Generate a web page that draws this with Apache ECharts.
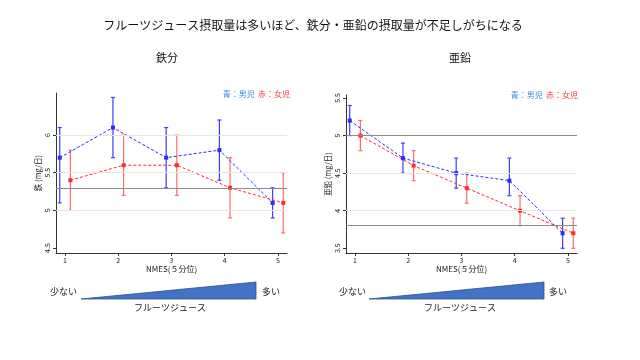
<!DOCTYPE html>
<html><head><meta charset="utf-8">
<script src="https://cdn.jsdelivr.net/npm/echarts@6/dist/echarts.min.js"></script>
<style>html,body{margin:0;padding:0;background:#fff}#c{width:640px;height:360px}</style>
</head><body><div id="c"></div>
<script>
const quintiles = [1, 2, 3, 4, 5];
const xTicks = [1, 2, 3, 4, 5];
const yTicksIron = [4.5, 5, 5.5, 6];
const yTicksZinc = [3.5, 4, 4.5, 5, 5.5];
const ironBoyMean  = [5.7, 6.1, 5.7, 5.8, 5.1];
const ironBoyLow   = [5.1, 5.7, 5.3, 5.4, 4.9];
const ironBoyHigh  = [6.1, 6.5, 6.1, 6.2, 5.3];
const ironGirlMean = [5.4, 5.6, 5.6, 5.3, 5.1];
const ironGirlLow  = [5.0, 5.2, 5.2, 4.9, 4.7];
const ironGirlHigh = [5.8, 6.0, 6.0, 5.7, 5.5];
const zincBoyMean  = [5.2, 4.7, 4.5, 4.4, 3.7];
const zincBoyLow   = [5.0, 4.5, 4.3, 4.2, 3.5];
const zincBoyHigh  = [5.4, 4.9, 4.7, 4.7, 3.9];
const zincGirlMean = [5.0, 4.6, 4.3, 4.0, 3.7];
const zincGirlLow  = [4.8, 4.4, 4.1, 3.8, 3.5];
const zincGirlHigh = [5.2, 4.8, 4.5, 4.2, 3.9];
const ironRefLines = [5.3];
const zincRefLines = [5.0, 3.8];
const ironGridLines = [5, 5.5, 6];
const zincGridLines = [4, 4.5];

const FONT = '"Noto Sans CJK JP", "Noto Sans", sans-serif';
const BLUE = '#2a2aff', BLUE_BAR = '#3c3cff';
const RED = '#ff2a2a', RED_BAR = '#ff6a6a';
const DODGE = 0.1;

function errSeries(idx, low, high, color, off) {
  return {
    type: 'custom', xAxisIndex: idx, yAxisIndex: idx, z: 3,
    data: quintiles.map((q, i) => [q + off, low[i], high[i]]),
    renderItem: function (params, api) {
      const x = api.value(0);
      const a = api.coord([x, api.value(1)]);
      const b = api.coord([x, api.value(2)]);
      const w = 2;
      const st = { stroke: color, lineWidth: 1.2 };
      return { type: 'group', children: [
        { type: 'line', shape: { x1: a[0], y1: a[1], x2: b[0], y2: b[1] }, style: st },
        { type: 'line', shape: { x1: a[0] - w, y1: a[1], x2: a[0] + w, y2: a[1] }, style: st },
        { type: 'line', shape: { x1: b[0] - w, y1: b[1], x2: b[0] + w, y2: b[1] }, style: st }
      ]};
    }
  };
}
function meanSeries(idx, mean, color, off) {
  return {
    type: 'line', xAxisIndex: idx, yAxisIndex: idx, z: 4,
    data: quintiles.map((q, i) => [q + off, mean[i]]),
    symbol: 'rect', symbolSize: 4,
    itemStyle: { color: color },
    lineStyle: { color: color, width: 1, type: [3, 2] },
    emphasis: { disabled: true },
    animation: false
  };
}
function refSeries(idx, ref, grid) {
  return {
    type: 'line', xAxisIndex: idx, yAxisIndex: idx, z: 1, data: [],
    markLine: {
      silent: true, symbol: 'none', label: { show: false }, animation: false,
      data: grid.map(v => ({ yAxis: v, lineStyle: { color: '#e6e6e6', width: 1, type: 'solid' } }))
        .concat(ref.map(v => ({ yAxis: v, lineStyle: { color: '#8c8c8c', width: 1, type: 'solid' } })))
    }
  };
}
function xAxis(idx) {
  return {
    type: 'value', gridIndex: idx, min: 0.83, max: 5.17,
    name: 'NMES(５分位)', nameLocation: 'middle', nameGap: 12,
    nameTextStyle: { fontSize: 8, color: '#222', fontFamily: FONT },
    axisLine: { lineStyle: { color: '#333', width: 1 } },
    axisTick: { show: true, length: 3, customValues: xTicks, lineStyle: { color: '#333' } },
    axisLabel: { fontSize: 7, color: '#222', margin: 4, customValues: xTicks, fontFamily: FONT },
    splitLine: { show: false }
  };
}
function yAxis(idx, min, max, ticks, name) {
  return {
    type: 'value', gridIndex: idx, min: min, max: max,
    name: name, nameLocation: 'middle', nameGap: 14, nameRotate: 90,
    nameTextStyle: { fontSize: 7.5, color: '#222', fontFamily: FONT },
    axisLine: { show: true, lineStyle: { color: '#333', width: 1 } },
    axisTick: { show: true, length: 3, customValues: ticks, lineStyle: { color: '#333' } },
    axisLabel: { fontSize: 7, color: '#222', rotate: 90, margin: 5, customValues: ticks, fontFamily: FONT },
    splitLine: { show: false }
  };
}

const chart = echarts.init(document.getElementById('c'), null, { renderer: 'canvas' });
chart.setOption({
  backgroundColor: '#fff',
  animation: false,
  grid: [
    { left: 56, width: 231, top: 93, height: 160 },
    { left: 346, width: 231, top: 95, height: 158 }
  ],
  xAxis: [xAxis(0), xAxis(1)],
  yAxis: [
    yAxis(0, 4.434, 6.559, yTicksIron, '鉄 (mg/日)'),
    yAxis(1, 3.437, 5.54, yTicksZinc, '亜鉛 (mg/日)')
  ],
  series: [
    refSeries(0, ironRefLines, ironGridLines),
    errSeries(0, ironBoyLow, ironBoyHigh, BLUE_BAR, -DODGE),
    errSeries(0, ironGirlLow, ironGirlHigh, RED_BAR, DODGE),
    meanSeries(0, ironBoyMean, BLUE, -DODGE),
    meanSeries(0, ironGirlMean, RED, DODGE),
    refSeries(1, zincRefLines, zincGridLines),
    errSeries(1, zincBoyLow, zincBoyHigh, BLUE_BAR, -DODGE),
    errSeries(1, zincGirlLow, zincGirlHigh, RED_BAR, DODGE),
    meanSeries(1, zincBoyMean, BLUE, -DODGE),
    meanSeries(1, zincGirlMean, RED, DODGE)
  ],
  graphic: [
    { type: 'text', x: 313, y: 25, style: { text: 'フルーツジュース摂取量は多いほど、鉄分・亜鉛の摂取量が不足しがちになる', font: '12px ' + FONT, fill: '#111', align: 'center', verticalAlign: 'middle' } },
    { type: 'text', x: 167, y: 58, style: { text: '鉄分', font: '11px ' + FONT, fill: '#111', align: 'center', verticalAlign: 'middle' } },
    { type: 'text', x: 460, y: 58, style: { text: '亜鉛', font: '11px ' + FONT, fill: '#111', align: 'center', verticalAlign: 'middle' } },
    { type: 'text', x: 290, y: 94, style: { text: '{b|青：男児} {r|赤：女児}', align: 'right', verticalAlign: 'middle',
      rich: { b: { fill: '#3a8fe0', font: '8px ' + FONT }, r: { fill: '#ff3a3a', font: '8px ' + FONT } } } },
    { type: 'text', x: 578, y: 95, style: { text: '{b|青：男児} {r|赤：女児}', align: 'right', verticalAlign: 'middle',
      rich: { b: { fill: '#3a8fe0', font: '8px ' + FONT }, r: { fill: '#ff3a3a', font: '8px ' + FONT } } } },
    { type: 'polygon', shape: { points: [[81, 299], [256, 299], [256, 282]] }, style: { fill: '#4472C4', stroke: '#2F528F', lineWidth: 0.8 } },
    { type: 'polygon', shape: { points: [[369, 299], [544, 299], [544, 282]] }, style: { fill: '#4472C4', stroke: '#2F528F', lineWidth: 0.8 } },
    { type: 'text', x: 77, y: 292, style: { text: '少ない', font: '9px ' + FONT, fill: '#222', align: 'right', verticalAlign: 'middle' } },
    { type: 'text', x: 262, y: 292, style: { text: '多い', font: '9px ' + FONT, fill: '#222', align: 'left', verticalAlign: 'middle' } },
    { type: 'text', x: 366, y: 292, style: { text: '少ない', font: '9px ' + FONT, fill: '#222', align: 'right', verticalAlign: 'middle' } },
    { type: 'text', x: 549, y: 292, style: { text: '多い', font: '9px ' + FONT, fill: '#222', align: 'left', verticalAlign: 'middle' } },
    { type: 'text', x: 170, y: 308, style: { text: 'フルーツジュース', font: '9px ' + FONT, fill: '#222', align: 'center', verticalAlign: 'middle' } },
    { type: 'text', x: 460, y: 308, style: { text: 'フルーツジュース', font: '9px ' + FONT, fill: '#222', align: 'center', verticalAlign: 'middle' } }
  ]
});
</script>
</body></html>
